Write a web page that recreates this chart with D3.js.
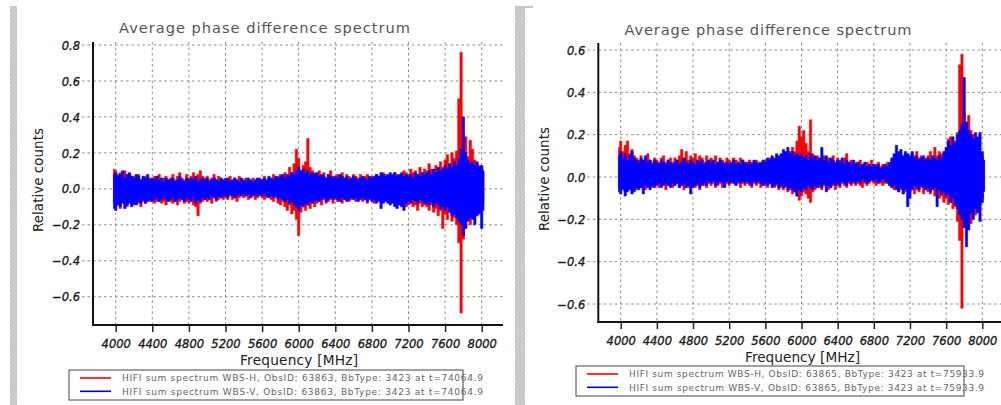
<!DOCTYPE html>
<html><head><meta charset="utf-8">
<script src="https://cdn.jsdelivr.net/npm/d3@7"></script>
<style>html,body{margin:0;padding:0;background:#fff;overflow:hidden}</style>
</head><body>
<svg id="c" width="1001" height="405"></svg>
<script>
// ---------------- DATA ----------------
// Spectra are summarised per 25 MHz bin (centres 3975 ... 8025 MHz) as the
// highest and lowest relative count seen in that bin.
const binStart = 3975, binStep = 25;
const xTickValues = [4000,4400,4800,5200,5600,6000,6400,6800,7200,7600,8000];
const yTicksLeft  = [-0.6,-0.4,-0.2,0.0,0.2,0.4,0.6,0.8];
const yTicksRight = [-0.6,-0.4,-0.2,0.0,0.2,0.4,0.6];
const titleText = "Average phase difference spectrum";
const xLabelText = "Frequency [MHz]";
const yLabelText = "Relative counts";
const legendLeft = ["HIFI sum spectrum WBS-H, ObsID: 63863, BbType: 3423 at t=74064.9",
                    "HIFI sum spectrum WBS-V, ObsID: 63863, BbType: 3423 at t=74064.9"];
const legendRight = ["HIFI sum spectrum WBS-H, ObsID: 63865, BbType: 3423 at t=75933.9",
                     "HIFI sum spectrum WBS-V, ObsID: 63865, BbType: 3423 at t=75933.9"];
const seriesColors = ["#ff0000","#0000ff"];

// ---- left panel (ObsID 63863) ----
const leftRedHigh = [0.11,
 0.10,0.08,0.09,0.07,0.10,0.06,0.08,0.07,
 0.07,0.06,0.08,0.05,0.06,0.07,0.05,0.06,
 0.05,0.07,0.06,0.08,0.05,0.06,0.07,0.05,
 0.06,0.08,0.05,0.07,0.09,0.06,0.05,0.08,
 0.06,0.07,0.09,0.06,0.08,0.10,0.07,0.06,
 0.07,0.05,0.06,0.08,0.05,0.07,0.06,0.05,
 0.06,0.05,0.07,0.04,0.06,0.05,0.07,0.05,
 0.04,0.06,0.05,0.04,0.06,0.05,0.04,0.06,
 0.05,0.07,0.04,0.06,0.05,0.08,0.06,0.07,
 0.08,0.06,0.09,0.07,0.12,0.09,0.14,0.22,
 0.17,0.10,0.13,0.15,0.28,0.12,0.10,0.09,
 0.08,0.10,0.07,0.09,0.06,0.08,0.10,0.07,
 0.06,0.08,0.07,0.09,0.06,0.08,0.07,0.06,
 0.08,0.07,0.06,0.08,0.06,0.07,0.08,0.06,
 0.07,0.06,0.08,0.07,0.06,0.09,0.08,0.07,
 0.08,0.07,0.09,0.08,0.07,0.08,0.10,0.09,
 0.08,0.11,0.09,0.10,0.08,0.12,0.09,0.11,
 0.10,0.14,0.11,0.09,0.13,0.10,0.15,0.12,
 0.16,0.19,0.14,0.20,0.17,0.21,0.50,0.76,
 0.30,0.29,0.18,0.27,0.22,0.16,0.14,0.13,
 0.12,0.09];
const leftRedLow = [-0.08,
 -0.10,-0.08,-0.11,-0.07,-0.09,-0.10,-0.07,-0.09,
 -0.09,-0.07,-0.08,-0.10,-0.07,-0.08,-0.06,-0.07,
 -0.06,-0.08,-0.07,-0.06,-0.08,-0.07,-0.09,-0.06,
 -0.07,-0.08,-0.06,-0.09,-0.07,-0.06,-0.08,-0.07,
 -0.08,-0.06,-0.09,-0.10,-0.15,-0.08,-0.07,-0.06,
 -0.07,-0.06,-0.08,-0.05,-0.07,-0.06,-0.05,-0.06,
 -0.05,-0.06,-0.04,-0.06,-0.05,-0.07,-0.05,-0.04,
 -0.05,-0.04,-0.06,-0.05,-0.04,-0.06,-0.05,-0.04,
 -0.05,-0.06,-0.05,-0.04,-0.06,-0.07,-0.05,-0.08,
 -0.09,-0.07,-0.10,-0.12,-0.09,-0.14,-0.12,-0.17,
 -0.26,-0.13,-0.10,-0.12,-0.09,-0.11,-0.08,-0.10,
 -0.08,-0.07,-0.09,-0.06,-0.08,-0.07,-0.06,-0.08,
 -0.06,-0.07,-0.05,-0.08,-0.06,-0.05,-0.07,-0.06,
 -0.05,-0.07,-0.06,-0.05,-0.07,-0.06,-0.08,-0.05,
 -0.06,-0.08,-0.07,-0.06,-0.08,-0.07,-0.06,-0.07,
 -0.08,-0.07,-0.09,-0.08,-0.07,-0.09,-0.08,-0.10,
 -0.09,-0.08,-0.10,-0.09,-0.12,-0.08,-0.10,-0.09,
 -0.10,-0.12,-0.09,-0.13,-0.11,-0.15,-0.12,-0.22,
 -0.14,-0.17,-0.13,-0.18,-0.16,-0.20,-0.30,-0.69,
 -0.28,-0.21,-0.17,-0.20,-0.16,-0.14,-0.13,-0.12,
 -0.11,-0.08];
const leftBlueHigh = [0.08,
 0.09,0.07,0.08,0.10,0.06,0.08,0.09,0.07,
 0.06,0.08,0.07,0.05,0.07,0.06,0.08,0.05,
 0.06,0.05,0.07,0.05,0.06,0.04,0.06,0.05,
 0.05,0.06,0.04,0.05,0.07,0.05,0.04,0.06,
 0.05,0.06,0.05,0.07,0.04,0.05,0.06,0.05,
 0.06,0.04,0.05,0.06,0.05,0.04,0.06,0.05,
 0.05,0.06,0.04,0.05,0.06,0.05,0.04,0.06,
 0.05,0.04,0.06,0.05,0.04,0.05,0.06,0.05,
 0.05,0.06,0.05,0.07,0.06,0.05,0.07,0.06,
 0.07,0.08,0.06,0.08,0.07,0.09,0.08,0.10,
 0.12,0.10,0.11,0.09,0.10,0.08,0.09,0.08,
 0.09,0.07,0.08,0.07,0.06,0.08,0.07,0.06,
 0.07,0.06,0.08,0.07,0.06,0.07,0.05,0.06,
 0.07,0.06,0.05,0.06,0.07,0.06,0.05,0.07,
 0.06,0.07,0.08,0.07,0.09,0.08,0.07,0.08,
 0.09,0.08,0.09,0.07,0.08,0.09,0.07,0.08,
 0.07,0.08,0.06,0.09,0.08,0.07,0.09,0.08,
 0.09,0.10,0.08,0.11,0.09,0.12,0.10,0.11,
 0.13,0.11,0.14,0.12,0.15,0.13,0.17,0.22,
 0.40,0.20,0.16,0.14,0.15,0.13,0.15,0.12,
 0.13,0.10];
const leftBlueLow = [-0.11,
 -0.12,-0.09,-0.10,-0.08,-0.11,-0.09,-0.08,-0.10,
 -0.08,-0.09,-0.07,-0.08,-0.06,-0.08,-0.07,-0.06,
 -0.07,-0.06,-0.05,-0.07,-0.06,-0.05,-0.06,-0.07,
 -0.06,-0.05,-0.07,-0.06,-0.05,-0.06,-0.07,-0.05,
 -0.06,-0.07,-0.05,-0.08,-0.06,-0.07,-0.05,-0.06,
 -0.05,-0.06,-0.04,-0.05,-0.06,-0.04,-0.05,-0.04,
 -0.04,-0.05,-0.03,-0.04,-0.05,-0.04,-0.03,-0.04,
 -0.03,-0.04,-0.03,-0.05,-0.04,-0.03,-0.04,-0.03,
 -0.04,-0.03,-0.04,-0.05,-0.04,-0.05,-0.04,-0.06,
 -0.05,-0.06,-0.07,-0.06,-0.08,-0.07,-0.09,-0.10,
 -0.12,-0.09,-0.10,-0.08,-0.09,-0.07,-0.08,-0.07,
 -0.06,-0.07,-0.06,-0.05,-0.07,-0.06,-0.05,-0.06,
 -0.05,-0.06,-0.07,-0.05,-0.06,-0.07,-0.06,-0.05,
 -0.06,-0.05,-0.07,-0.06,-0.05,-0.06,-0.07,-0.06,
 -0.07,-0.06,-0.08,-0.07,-0.11,-0.08,-0.07,-0.08,
 -0.09,-0.08,-0.10,-0.11,-0.09,-0.10,-0.12,-0.08,
 -0.07,-0.08,-0.06,-0.07,-0.08,-0.06,-0.07,-0.08,
 -0.08,-0.09,-0.07,-0.10,-0.08,-0.09,-0.11,-0.10,
 -0.12,-0.10,-0.13,-0.15,-0.14,-0.16,-0.18,-0.20,
 -0.26,-0.22,-0.18,-0.16,-0.17,-0.20,-0.15,-0.14,
 -0.22,-0.12];

// ---- right panel (ObsID 63865) ----
const rightRedHigh = [0.14,
 0.17,0.12,0.15,0.17,0.11,0.13,0.10,0.09,
 0.08,0.10,0.07,0.09,0.11,0.08,0.07,0.09,
 0.08,0.07,0.09,0.10,0.07,0.08,0.09,0.07,
 0.09,0.08,0.10,0.13,0.09,0.12,0.08,0.10,
 0.09,0.11,0.08,0.10,0.09,0.07,0.10,0.08,
 0.09,0.08,0.10,0.07,0.09,0.08,0.07,0.09,
 0.08,0.07,0.09,0.08,0.07,0.09,0.08,0.06,
 0.07,0.08,0.07,0.06,0.08,0.07,0.06,0.07,
 0.08,0.07,0.09,0.08,0.07,0.09,0.08,0.10,
 0.09,0.11,0.10,0.12,0.14,0.12,0.17,0.24,
 0.19,0.22,0.16,0.12,0.27,0.11,0.09,0.10,
 0.09,0.08,0.10,0.07,0.09,0.08,0.10,0.07,
 0.09,0.08,0.07,0.09,0.11,0.07,0.08,0.06,
 0.07,0.06,0.08,0.06,0.05,0.07,0.06,0.08,
 0.05,0.06,0.07,0.05,0.06,0.05,0.07,0.06,
 0.08,0.10,0.09,0.11,0.10,0.09,0.11,0.10,
 0.09,0.11,0.10,0.12,0.09,0.10,0.08,0.09,
 0.10,0.12,0.09,0.14,0.10,0.12,0.11,0.10,
 0.12,0.18,0.19,0.14,0.17,0.21,0.53,0.58,
 0.30,0.24,0.29,0.22,0.20,0.17,0.15,0.12,
 0.10,0.08];
const rightRedLow = [-0.05,
 -0.06,-0.04,-0.07,-0.05,-0.06,-0.04,-0.05,-0.06,
 -0.04,-0.05,-0.03,-0.06,-0.04,-0.03,-0.05,-0.04,
 -0.03,-0.05,-0.04,-0.03,-0.06,-0.04,-0.03,-0.05,
 -0.04,-0.03,-0.05,-0.04,-0.06,-0.03,-0.05,-0.04,
 -0.03,-0.05,-0.04,-0.06,-0.03,-0.04,-0.05,-0.03,
 -0.04,-0.03,-0.05,-0.04,-0.03,-0.05,-0.04,-0.03,
 -0.04,-0.03,-0.02,-0.04,-0.03,-0.05,-0.03,-0.04,
 -0.03,-0.04,-0.05,-0.03,-0.04,-0.03,-0.05,-0.04,
 -0.04,-0.05,-0.03,-0.04,-0.05,-0.04,-0.06,-0.05,
 -0.06,-0.05,-0.07,-0.06,-0.08,-0.07,-0.09,-0.11,
 -0.09,-0.07,-0.08,-0.10,-0.12,-0.07,-0.06,-0.05,
 -0.05,-0.06,-0.04,-0.05,-0.06,-0.05,-0.04,-0.06,
 -0.04,-0.05,-0.03,-0.04,-0.05,-0.03,-0.04,-0.03,
 -0.04,-0.03,-0.04,-0.05,-0.03,-0.04,-0.03,-0.02,
 -0.03,-0.04,-0.02,-0.03,-0.04,-0.03,-0.02,-0.04,
 -0.05,-0.06,-0.05,-0.07,-0.06,-0.08,-0.07,-0.06,
 -0.07,-0.06,-0.08,-0.06,-0.07,-0.05,-0.08,-0.06,
 -0.07,-0.08,-0.06,-0.09,-0.08,-0.10,-0.09,-0.12,
 -0.10,-0.13,-0.11,-0.15,-0.14,-0.21,-0.30,-0.62,
 -0.22,-0.18,-0.20,-0.22,-0.16,-0.18,-0.14,-0.13,
 -0.10,-0.06];
const rightBlueHigh = [0.10,
 0.12,0.09,0.11,0.08,0.10,0.12,0.09,0.08,
 0.07,0.09,0.08,0.10,0.07,0.08,0.06,0.08,
 0.07,0.06,0.08,0.07,0.06,0.08,0.07,0.06,
 0.07,0.08,0.06,0.07,0.09,0.07,0.06,0.08,
 0.07,0.06,0.08,0.07,0.08,0.06,0.07,0.08,
 0.07,0.08,0.06,0.07,0.08,0.07,0.06,0.07,
 0.06,0.07,0.08,0.06,0.07,0.06,0.08,0.07,
 0.06,0.07,0.06,0.08,0.07,0.06,0.07,0.08,
 0.07,0.09,0.08,0.10,0.09,0.11,0.10,0.11,
 0.13,0.12,0.14,0.11,0.12,0.10,0.11,0.10,
 0.11,0.09,0.10,0.08,0.11,0.09,0.10,0.08,
 0.09,0.14,0.08,0.10,0.07,0.09,0.08,0.07,
 0.08,0.07,0.09,0.06,0.08,0.07,0.06,0.08,
 0.06,0.07,0.05,0.06,0.07,0.05,0.06,0.05,
 0.06,0.05,0.06,0.04,0.05,0.06,0.05,0.07,
 0.09,0.11,0.15,0.12,0.13,0.10,0.12,0.11,
 0.10,0.12,0.09,0.10,0.08,0.09,0.10,0.08,
 0.09,0.08,0.10,0.09,0.08,0.10,0.09,0.12,
 0.14,0.17,0.15,0.19,0.16,0.20,0.22,0.25,
 0.47,0.26,0.22,0.20,0.18,0.21,0.19,0.21,
 0.12,0.08];
const rightBlueLow = [-0.07,
 -0.08,-0.06,-0.09,-0.07,-0.06,-0.08,-0.07,-0.05,
 -0.06,-0.05,-0.08,-0.04,-0.05,-0.06,-0.04,-0.05,
 -0.04,-0.03,-0.05,-0.04,-0.03,-0.04,-0.05,-0.03,
 -0.04,-0.03,-0.05,-0.04,-0.03,-0.05,-0.04,-0.08,
 -0.05,-0.04,-0.03,-0.05,-0.04,-0.03,-0.04,-0.02,
 -0.03,-0.02,-0.04,-0.03,-0.02,-0.03,-0.05,-0.02,
 -0.03,-0.02,-0.03,-0.04,-0.02,-0.03,-0.02,-0.03,
 -0.02,-0.03,-0.04,-0.02,-0.03,-0.02,-0.03,-0.04,
 -0.03,-0.04,-0.03,-0.05,-0.04,-0.03,-0.05,-0.04,
 -0.05,-0.04,-0.06,-0.05,-0.06,-0.07,-0.09,-0.06,
 -0.07,-0.05,-0.06,-0.04,-0.05,-0.06,-0.04,-0.05,
 -0.04,-0.05,-0.03,-0.07,-0.04,-0.05,-0.03,-0.04,
 -0.03,-0.04,-0.02,-0.03,-0.04,-0.02,-0.03,-0.02,
 -0.03,-0.02,-0.03,-0.01,-0.02,-0.03,-0.02,-0.01,
 -0.02,-0.01,-0.03,-0.02,-0.01,-0.02,-0.03,-0.04,
 -0.05,-0.04,-0.06,-0.07,-0.05,-0.08,-0.06,-0.14,
 -0.10,-0.06,-0.04,-0.05,-0.06,-0.04,-0.05,-0.06,
 -0.05,-0.07,-0.06,-0.05,-0.14,-0.06,-0.08,-0.07,
 -0.09,-0.08,-0.12,-0.10,-0.13,-0.15,-0.18,-0.20,
 -0.24,-0.33,-0.25,-0.17,-0.20,-0.15,-0.17,-0.21,
 -0.12,-0.07];

// ---------------- DRAWING ----------------
const svg = d3.select("#c");
const FONT = "'DejaVu Sans', Verdana, sans-serif";

const defs = svg.append("defs");
const pat = defs.append("pattern").attr("id","hatch").attr("width",3).attr("height",3)
  .attr("patternUnits","userSpaceOnUse").attr("patternTransform","rotate(45)");
pat.append("rect").attr("width",3).attr("height",3).attr("fill","#cfcfcf");
pat.append("line").attr("x1",0).attr("y1",0).attr("x2",0).attr("y2",3).attr("stroke","#b4b4b4").attr("stroke-width",1.2);

// separator bars
svg.append("rect").attr("x",10).attr("y",6).attr("width",7).attr("height",399).attr("fill","url(#hatch)");
svg.append("rect").attr("x",515).attr("y",7).attr("width",10).attr("height",398).attr("fill","url(#hatch)");
svg.append("rect").attr("x",515).attr("y",6).attr("width",18).attr("height",2).attr("fill","#c4c4c4");

function drawPanel(cfg) {
  const g = svg.append("g");
  const x = d3.scaleLinear().domain([4000, 8000]).range(cfg.xRange);
  const y = d3.scaleLinear().domain(cfg.yDomain).range(cfg.yRange);
  const L = cfg.axisLeft, R = cfg.axisRight, T = cfg.axisTop, B = cfg.axisBottom;

  // grid
  g.append("g").selectAll("line").data(cfg.yTicks).join("line")
    .attr("x1", L - 11).attr("x2", R).attr("y1", d => y(d)).attr("y2", d => y(d))
    .attr("stroke", "#8c8c8c").attr("stroke-width", 1).attr("stroke-dasharray", "2.5,3");
  g.append("g").selectAll("line").data(xTickValues).join("line")
    .attr("x1", d => x(d)).attr("x2", d => x(d)).attr("y1", T).attr("y2", B)
    .attr("stroke", "#8c8c8c").attr("stroke-width", 1).attr("stroke-dasharray", "2.5,3");

  // spectra: filled band between each bin's low and high value
  const area = d3.area()
    .x(d => x(d.f)).y0(d => y(d.lo)).y1(d => y(d.hi))
    .curve(d3.curveStep);
  cfg.series.forEach((s, k) => {
    const bins = s.high.map((h, i) => ({f: binStart + i * binStep, hi: h, lo: s.low[i]}));
    g.append("path").datum(bins).attr("d", area)
      .attr("fill", seriesColors[k]).attr("stroke", seriesColors[k]).attr("stroke-width", 0.6);
  });

  // axes lines
  g.append("line").attr("x1", L).attr("x2", L).attr("y1", T).attr("y2", B + 1)
    .attr("stroke", "#111").attr("stroke-width", 2);
  g.append("line").attr("x1", L - 1).attr("x2", R).attr("y1", B).attr("y2", B)
    .attr("stroke", "#111").attr("stroke-width", 2);

  // x axis ticks & labels
  const xa = g.append("g").attr("transform", `translate(0,${B})`)
    .call(d3.axisBottom(x).tickValues(xTickValues).tickSize(7).tickFormat(d3.format("d")));
  xa.select(".domain").remove();
  xa.selectAll(".tick line").attr("stroke", "#222").attr("stroke-width", 1.5);
  xa.selectAll(".tick text").attr("y", 23).attr("dy", 0)
    .attr("font-family", FONT).attr("font-style", "italic").attr("font-size", 11.5)
    .attr("fill", "#1a1a1a").attr("stroke", "#1a1a1a").attr("stroke-width", 0.35);

  // y axis labels
  const ya = g.append("g").attr("transform", `translate(${L},0)`)
    .call(d3.axisLeft(y).tickValues(cfg.yTicks).tickSize(0).tickPadding(13).tickFormat(d3.format(".1f")));
  ya.select(".domain").remove();
  ya.selectAll(".tick text").attr("dy", "0.36em")
    .attr("font-family", FONT).attr("font-style", "italic").attr("font-size", 11.5)
    .attr("fill", "#1a1a1a").attr("stroke", "#1a1a1a").attr("stroke-width", 0.35);

  // title
  g.append("text").attr("x", cfg.titleX).attr("y", cfg.titleY).attr("text-anchor", "middle")
    .attr("font-family", FONT).attr("font-size", 14.6).attr("fill", "#555")
    .attr("textLength", cfg.titleLen).attr("lengthAdjust", "spacing").text(titleText);
  // x label
  g.append("text").attr("x", cfg.xLabelX).attr("y", B + 40).attr("text-anchor", "middle")
    .attr("font-family", FONT).attr("font-size", 13.7).attr("fill", "#222")
    .attr("textLength", cfg.xLabelLen).attr("lengthAdjust", "spacing").text(xLabelText);
  // y label
  g.append("text").attr("transform", `translate(${cfg.yLabelX},${cfg.yLabelY}) rotate(-90)`)
    .attr("text-anchor", "middle").attr("font-family", FONT).attr("font-size", 13.4).attr("fill", "#222")
    .attr("textLength", 104).attr("lengthAdjust", "spacing").text(yLabelText);

  // legend
  const lg = g.append("g");
  lg.append("rect").attr("x", cfg.legX).attr("y", cfg.legY).attr("width", cfg.legW).attr("height", 30)
    .attr("fill", "none").attr("stroke", "#444").attr("stroke-width", 1);
  cfg.legend.forEach((t, k) => {
    const yy = cfg.legY + 8 + k * 13.3;
    lg.append("line").attr("x1", cfg.legX + 11).attr("x2", cfg.legX + 42).attr("y1", yy).attr("y2", yy)
      .attr("stroke", seriesColors[k]).attr("stroke-width", 1.6);
    lg.append("text").attr("x", cfg.legX + 53).attr("y", yy + 3.3)
      .attr("font-family", FONT).attr("font-size", 9).attr("fill", "#666")
      .attr("textLength", cfg.legTextLen).attr("lengthAdjust", "spacing").text(t);
  });
}

drawPanel({
  xRange: [115.7, 481.7], yDomain: [0.8, -0.6], yRange: [45, 296.7],
  axisLeft: 93, axisRight: 503, axisTop: 42, axisBottom: 325,
  yTicks: yTicksLeft,
  series: [{high: leftRedHigh, low: leftRedLow}, {high: leftBlueHigh, low: leftBlueLow}],
  titleX: 264.5, titleY: 33, titleLen: 291,
  xLabelX: 299, xLabelLen: 118,
  yLabelX: 43, yLabelY: 180,
  legX: 69, legY: 370, legW: 394, legTextLen: 361, legend: legendLeft
});
drawPanel({
  xRange: [620.7, 982.3], yDomain: [0.6, -0.6], yRange: [50, 304],
  axisLeft: 598.3, axisRight: 1001, axisTop: 43, axisBottom: 322,
  yTicks: yTicksRight,
  series: [{high: rightRedHigh, low: rightRedLow}, {high: rightBlueHigh, low: rightBlueLow}],
  titleX: 768, titleY: 35, titleLen: 287,
  xLabelX: 802.5, xLabelLen: 115,
  yLabelX: 549, yLabelY: 179,
  legX: 576, legY: 366, legW: 388, legTextLen: 355, legend: legendRight
});
</script>
</body></html>
